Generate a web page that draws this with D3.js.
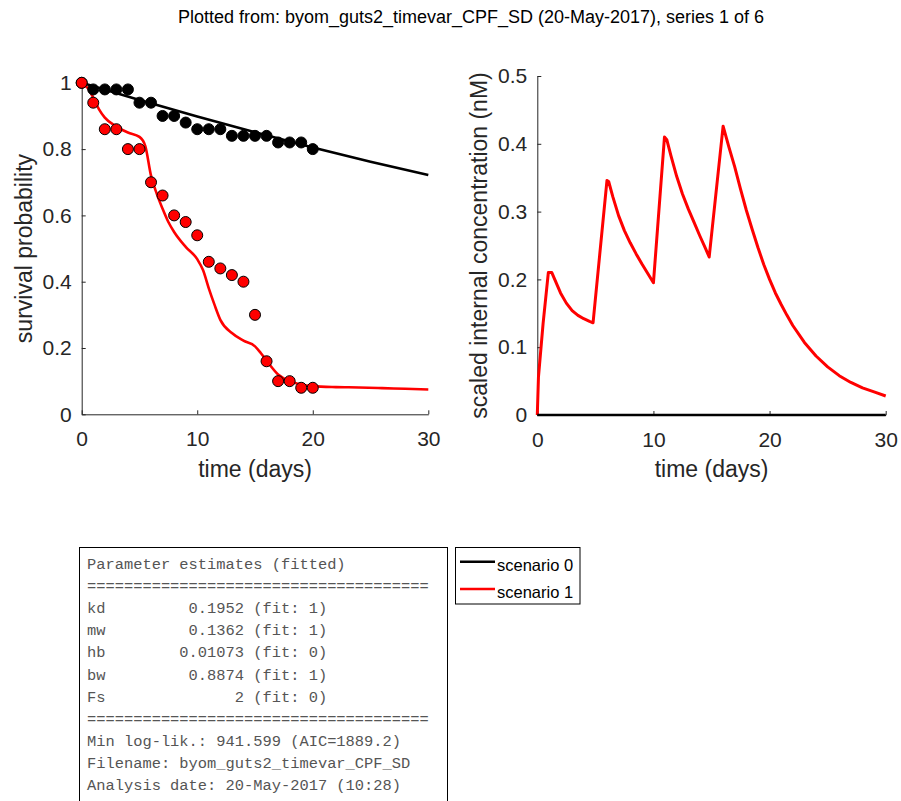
<!DOCTYPE html>
<html>
<head>
<meta charset="utf-8">
<script src="https://cdn.jsdelivr.net/npm/d3@7"></script>
<style>
body { margin: 0; background: #fff; }
text { font-family: "Liberation Sans", Arial, sans-serif; }
</style>
</head>
<body>
<div id="fig"></div>
<script>
// observed survival (dots), days 0..20
const dataDays = [0, 1, 2, 3, 4, 5, 6, 7, 8, 9, 10, 11, 12, 13, 14, 15, 16, 17, 18, 19, 20];
const survData0 = [1.00, 0.98, 0.98, 0.98, 0.98, 0.94, 0.94, 0.90, 0.90, 0.88, 0.86, 0.86, 0.86, 0.84, 0.84, 0.84, 0.84, 0.82, 0.82, 0.82, 0.80];
const survData1 = [1.00, 0.94, 0.86, 0.86, 0.80, 0.80, 0.70, 0.66, 0.60, 0.58, 0.54, 0.46, 0.44, 0.42, 0.40, 0.30, 0.16, 0.10, 0.10, 0.08, 0.08];

// model fits
const fitTime0 = [0, 5, 10, 15, 20, 25, 30];
const fitSurv0 = [1.0, 0.948, 0.898, 0.851, 0.805, 0.762, 0.722];
const fitTime1 = [0, 0.5, 1, 1.5, 2, 3, 4, 5, 5.5, 6, 6.5, 7, 7.5, 8, 9, 10, 10.5, 11, 11.5, 12, 13, 14, 15, 15.5, 16, 17, 18, 19, 20, 22, 24, 26, 28, 30];
const fitSurv1 = [1.0, 0.985, 0.955, 0.92, 0.895, 0.868, 0.85, 0.837, 0.81, 0.72, 0.665, 0.62, 0.58, 0.55, 0.505, 0.468, 0.435, 0.38, 0.33, 0.285, 0.245, 0.222, 0.205, 0.185, 0.162, 0.12, 0.10, 0.09, 0.085, 0.082, 0.081, 0.079, 0.077, 0.075];

// scaled internal concentration
const concTime0 = [0, 30];
const concScen0 = [0, 0];
const concTime1 = [0, 0.1, 0.5, 0.95, 1.25, 1.5, 1.75, 2, 2.5, 3, 3.5, 4, 4.5, 4.8,
    6.0, 6.15, 6.5, 7, 7.5, 8, 8.5, 9, 9.5, 10,
    10.95, 11.15, 11.5, 12, 12.5, 13, 13.5, 14, 14.5, 14.8,
    16.0, 16.5, 17, 17.5, 18, 18.5, 19, 19.5, 20, 20.5, 21, 21.5, 22, 23, 24, 25, 26, 27, 28, 29, 30];
const concScen1 = [0, 0.056, 0.135, 0.21, 0.21, 0.200, 0.190, 0.180, 0.165, 0.154, 0.147, 0.142, 0.138, 0.136,
    0.346, 0.344, 0.322, 0.294, 0.272, 0.254, 0.238, 0.223, 0.209, 0.195,
    0.41, 0.406, 0.383, 0.352, 0.326, 0.304, 0.284, 0.264, 0.245, 0.233,
    0.426, 0.395, 0.366, 0.333, 0.302, 0.274, 0.247, 0.222, 0.200, 0.180, 0.163, 0.147, 0.132, 0.107, 0.087, 0.071, 0.058, 0.048, 0.040, 0.034, 0.028];

const xTicks = [0, 10, 20, 30];
const survTicks = [0, 0.2, 0.4, 0.6, 0.8, 1];
const concTicks = [0, 0.1, 0.2, 0.3, 0.4, 0.5];

const scenarioNames = ["scenario 0", "scenario 1"];
const scenarioColors = ["#000000", "#ff0000"];

const paramNames = ["kd", "mw", "hb", "bw", "Fs"];
const paramValues = ["0.1952", "0.1362", "0.01073", "0.8874", "2"];
const paramFit = [1, 1, 0, 1, 0];

const titleText = "Plotted from: byom_guts2_timevar_CPF_SD (20-May-2017), series 1 of 6";
const footerLines = ["Min log-lik.: 941.599 (AIC=1889.2)", "Filename: byom_guts2_timevar_CPF_SD", "Analysis date: 20-May-2017 (10:28)"];

const width = 901, height = 801;
const axisColor = "#262626";

let svg = d3.select("#fig").append("svg")
    .attr("width", width)
    .attr("height", height);

svg.append("text")
    .attr("x", 471)
    .attr("y", 23)
    .attr("text-anchor", "middle")
    .style("font-size", "18px")
    .attr("fill", "#000")
    .text(titleText);

function zipPts(xs, ys){
    return xs.map(function(x, i){ return [x, ys[i]]; });
}

function drawAxes(g, x, y, yTicks, yLabel, yLabelX){
    let xa = g.append("g")
        .attr("transform", "translate(0," + y.range()[0] + ")")
        .call(d3.axisBottom(x).tickValues(xTicks).tickSizeInner(-4).tickSizeOuter(0).tickPadding(17)
            .tickFormat(function(d){ return String(d); }));
    let ya = g.append("g")
        .attr("transform", "translate(" + x.range()[0] + ",0)")
        .call(d3.axisLeft(y).tickValues(yTicks).tickSizeInner(-4).tickSizeOuter(0).tickPadding(10)
            .tickFormat(function(d){ return String(d); }));
    [xa, ya].forEach(function(a){
        a.attr("font-size", 21).attr("font-family", "Liberation Sans, Arial, sans-serif");
        a.selectAll("path, line").attr("stroke", axisColor);
        a.selectAll("text").attr("fill", axisColor);
    });

    g.append("text")
        .attr("x", (x.range()[0] + x.range()[1]) / 2)
        .attr("y", 477)
        .attr("text-anchor", "middle")
        .style("font-size", "23px")
        .attr("fill", axisColor)
        .text("time (days)");

    let cy = (y.range()[0] + y.range()[1]) / 2;
    g.append("text")
        .attr("transform", "translate(" + yLabelX + "," + cy + ") rotate(-90)")
        .attr("text-anchor", "middle")
        .style("font-size", "23px")
        .attr("fill", axisColor)
        .text(yLabel);
}

// ---- left panel: survival ----
let x1 = d3.scaleLinear().domain([0, 30]).range([81.7, 428.3]);
let y1 = d3.scaleLinear().domain([0, 1]).range([414.3, 82.8]);
let g1 = svg.append("g");
drawAxes(g1, x1, y1, survTicks, "survival probability", 32);

let line1 = d3.line()
    .x(function(d){ return x1(d[0]); })
    .y(function(d){ return y1(d[1]); });

g1.append("path")
    .datum(zipPts(fitTime0, fitSurv0))
    .attr("d", line1)
    .attr("fill", "none")
    .attr("stroke", scenarioColors[0])
    .attr("stroke-width", 2.6);

g1.append("path")
    .datum(zipPts(fitTime1, fitSurv1))
    .attr("d", line1.curve(d3.curveMonotoneX))
    .attr("fill", "none")
    .attr("stroke", scenarioColors[1])
    .attr("stroke-width", 2.6);

g1.append("g").selectAll("circle")
    .data(zipPts(dataDays, survData0))
    .enter().append("circle")
    .attr("cx", function(d){ return x1(d[0]); })
    .attr("cy", function(d){ return y1(d[1]); })
    .attr("r", 5.5)
    .attr("fill", scenarioColors[0])
    .attr("stroke", "#000")
    .attr("stroke-width", 1);

g1.append("g").selectAll("circle")
    .data(zipPts(dataDays, survData1))
    .enter().append("circle")
    .attr("cx", function(d){ return x1(d[0]); })
    .attr("cy", function(d){ return y1(d[1]); })
    .attr("r", 5.5)
    .attr("fill", scenarioColors[1])
    .attr("stroke", "#000")
    .attr("stroke-width", 1);

// ---- right panel: internal concentration ----
let x2 = d3.scaleLinear().domain([0, 30]).range([537.3, 885.7]);
let y2 = d3.scaleLinear().domain([0, 0.5]).range([415, 76]);
let g2 = svg.append("g");
drawAxes(g2, x2, y2, concTicks, "scaled internal concentration (nM)", 487);

let line2 = d3.line()
    .x(function(d){ return x2(d[0]); })
    .y(function(d){ return y2(d[1]); });

g2.append("path")
    .datum(zipPts(concTime1, concScen1))
    .attr("d", line2)
    .attr("fill", "none")
    .attr("stroke", scenarioColors[1])
    .attr("stroke-width", 3)
    .attr("stroke-linejoin", "round");

g2.append("path")
    .datum(zipPts(concTime0, concScen0))
    .attr("d", line2)
    .attr("fill", "none")
    .attr("stroke", scenarioColors[0])
    .attr("stroke-width", 2.6);

// ---- parameter text box ----
let boxLines = ["Parameter estimates (fitted)", "=".repeat(37)];
paramNames.forEach(function(n, i){
    boxLines.push(n.padEnd(10) + paramValues[i].padStart(7) + " (fit: " + paramFit[i] + ")");
});
boxLines.push("=".repeat(37));
footerLines.forEach(function(l){ boxLines.push(l); });

svg.append("rect")
    .attr("x", 79.5).attr("y", 547.5)
    .attr("width", 368).attr("height", 300)
    .attr("fill", "#fff")
    .attr("stroke", "#000")
    .attr("stroke-width", 1);

svg.append("g").selectAll("text")
    .data(boxLines)
    .enter().append("text")
    .attr("x", 87)
    .attr("y", function(d, i){ return 569 + i * 22.1; })
    .style("font-family", "'Liberation Mono', 'Courier New', monospace")
    .style("font-size", "15.4px")
    .style("white-space", "pre")
    .attr("fill", "#555")
    .text(function(d){ return d; });

// ---- legend ----
let leg = svg.append("g");
leg.append("rect")
    .attr("x", 455.5).attr("y", 547.5)
    .attr("width", 124.5).attr("height", 56.5)
    .attr("fill", "#fff")
    .attr("stroke", "#000")
    .attr("stroke-width", 1);

scenarioNames.forEach(function(name, i){
    let ly = 561.7 + i * 27.3;
    leg.append("line")
        .attr("x1", 460).attr("x2", 495)
        .attr("y1", ly).attr("y2", ly)
        .attr("stroke", scenarioColors[i])
        .attr("stroke-width", 2.6);
    leg.append("text")
        .attr("x", 497)
        .attr("y", ly + 9)
        .style("font-size", "16.5px")
        .attr("fill", "#000")
        .text(name);
});
</script>
</body>
</html>
